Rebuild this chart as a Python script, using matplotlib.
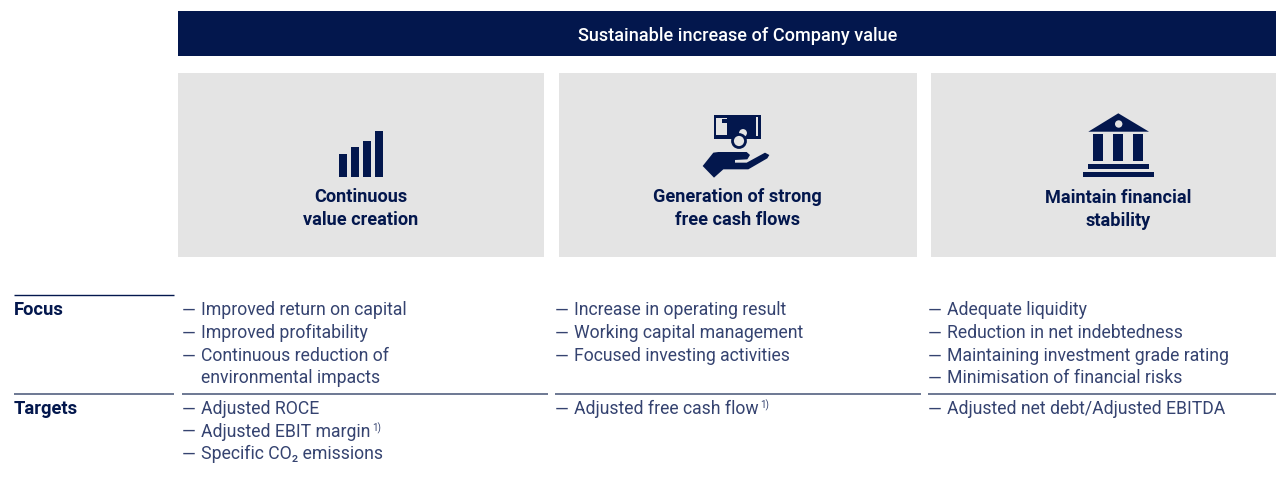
import matplotlib
matplotlib.use("Agg")
import matplotlib.pyplot as plt
from matplotlib.patches import Rectangle, Polygon, Circle

NAVY = "#03174d"
GREY = "#e4e4e4"
LINE = "#6d7893"
TEXT = "#354370"

plt.rcParams["font.family"] = ["Roboto", "DejaVu Sans"]

header = "Sustainable increase of Company value"
pillars = ["Continuous\nvalue creation", "Generation of strong\nfree cash flows", "Maintain financial\nstability"]
row_labels = ["Focus", "Targets"]
focus = [
    ["Improved return on capital", "Improved profitability", "Continuous reduction of", "  environmental impacts"],
    ["Increase in operating result", "Working capital management", "Focused investing activities"],
    ["Adequate liquidity", "Reduction in net indebtedness", "Maintaining investment grade rating", "Minimisation of financial risks"],
]
targets = [
    ["Adjusted ROCE", "Adjusted EBIT margin", "Specific CO₂ emissions"],
    ["Adjusted free cash flow"],
    ["Adjusted net debt/Adjusted EBITDA"],
]
footnoted = ["Adjusted EBIT margin", "Adjusted free cash flow"]

boxes = [(178, 544), (559, 917), (931, 1276)]
pillar_x = [360.5, 737.5, 1118.5]
pillar_y = [207.5, 207.5, 208.5]
text_x = [183, 556, 929]
focus_y = [314.5, 337.3, 360.3, 382.3]
target_y = [413.3, 436, 458.3]

fig = plt.figure(figsize=(12.76, 4.85), dpi=100)
ax = fig.add_axes([0, 0, 1, 1])
ax.set_xlim(0, 1276)
ax.set_ylim(484, -1)
ax.axis("off")
renderer = fig.canvas.get_renderer()

ax.add_patch(Rectangle((178, 11), 1098, 45, color=NAVY, lw=0))
ax.text(737.5, 35, header, color="white", fontsize=13.1, fontweight="medium", ha="center", va="center")

for (x0, x1), name, cx, y in zip(boxes, pillars, pillar_x, pillar_y):
    ax.add_patch(Rectangle((x0, 73), x1 - x0, 184, color=GREY, lw=0))
    ax.text(cx, y, name, color=NAVY, fontsize=13.1, fontweight="bold",
            ha="center", va="center", linespacing=1.42)

# bar icon
for x, top in zip([339, 351, 363, 375], [154, 147, 141, 131]):
    ax.add_patch(Rectangle((x, top), 8, 177 - top, color=NAVY, lw=0))

# money icon
ax.add_patch(Rectangle((713.5, 114.5), 47.5, 24, color=NAVY, lw=0))
ax.add_patch(Rectangle((716, 117.5), 11, 17.5, color=GREY, lw=0))
ax.add_patch(Rectangle((722, 119), 5, 4, color=NAVY, lw=0))
ax.add_patch(Rectangle((755.5, 117), 2.8, 19, color=GREY, lw=0))
ax.add_patch(Circle((743, 133), 5, fc=GREY, ec=NAVY, lw=1.5))
ax.add_patch(Circle((739, 141), 6.5, fc=GREY, ec=NAVY, lw=2))
hand = [(38, 183), (70, 143), (85, 141), (170, 141), (180, 150), (172, 163), (135, 165), (135, 173),
        (170, 173), (225, 143), (238, 150), (232, 160), (175, 193), (100, 193), (72, 218)]
ax.add_patch(Polygon([(690 + a / 3, 105 + b / 3) for a, b in hand], color=NAVY, lw=0))

# bank icon
ax.add_patch(Polygon([(1088.3, 131.7), (1118.3, 113.3), (1149, 131.7)], color=NAVY, lw=0))
ax.add_patch(Circle((1118.7, 124), 3.7, color=GREY, lw=0))
for x in [1093.3, 1113.3, 1133.3]:
    ax.add_patch(Rectangle((x, 134.3), 10, 27, color=NAVY, lw=0))
ax.add_patch(Rectangle((1088.3, 164.3), 60.7, 5, color=NAVY, lw=0))
ax.add_patch(Rectangle((1083.3, 172), 70.3, 5, color=NAVY, lw=0))

# rules
ax.plot([14, 174], [295, 295], color=NAVY, lw=1, solid_capstyle="butt")
for x0, x1 in [(14, 174), (182, 548), (555, 921), (928, 1276)]:
    ax.plot([x0, x1], [393.5, 393.5], color=LINE, lw=1.4, solid_capstyle="butt")

ax.text(14, 309, row_labels[0], color=NAVY, fontsize=13.2, fontweight="bold", va="center")
ax.text(14, 408, row_labels[1], color=NAVY, fontsize=13.2, fontweight="bold", va="center")


def draw_rows(lines, x, ys):
    for line, y in zip(lines, ys):
        if line.startswith("  "):
            line = line.strip()
        else:
            ax.text(x - 1, y, "—", color=TEXT, fontsize=12.7, va="baseline")
        t = ax.text(x + 18, y, line, color=TEXT, fontsize=12.7, va="baseline")
        if line in footnoted:
            box = t.get_window_extent(renderer)
            ax.text(box.x1 + 2, y - 6, "1)", color=TEXT, fontsize=7, va="baseline")


for i in range(3):
    draw_rows(focus[i], text_x[i], focus_y)
    draw_rows(targets[i], text_x[i], target_y)

fig.savefig("out.png", dpi=100)
